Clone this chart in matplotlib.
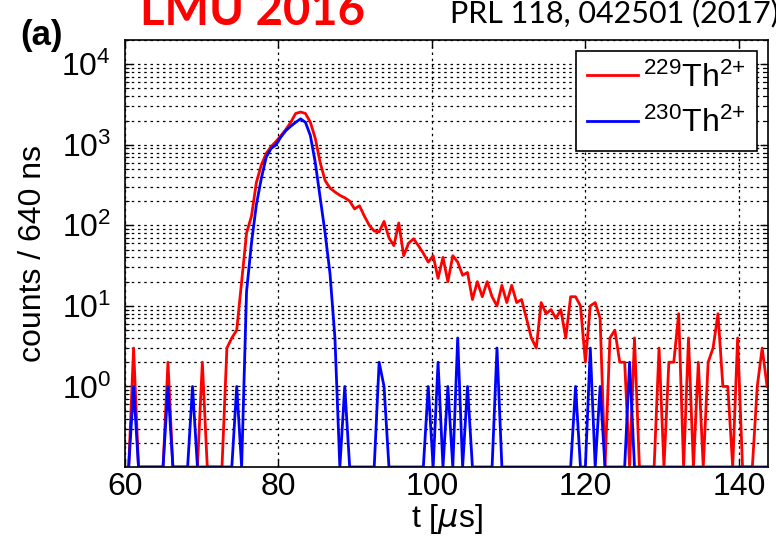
import numpy as np
import matplotlib

matplotlib.use('Agg')

import matplotlib.pyplot as plt
from matplotlib.ticker import LogLocator, NullFormatter

plt.rcParams['font.family'] = 'Liberation Sans'
plt.rcParams['mathtext.default'] = 'regular'

# time bins (640 ns wide), in microseconds
bin_width = 0.64
t_start = 60.48

# counts per bin, 229Th2+ (red)
counts_229 = [
    0, 3, 0, 0, 0, 0, 0, 0, 2, 0,
    0, 0, 0, 0, 0, 2, 0, 0, 0, 0,
    3, 4, 5, 20, 80, 130, 340, 560, 780, 950,
    1100, 1300, 1550, 1900, 2450, 2550, 2450, 1900, 1200, 600,
    360, 290, 260, 236, 220, 200, 160, 175, 130, 100,
    85, 83, 112, 70, 56, 107, 42, 60, 68, 56,
    45, 35, 42, 22, 40, 20, 42, 35, 24, 26,
    12, 20, 13, 20, 13, 10, 18, 11, 18, 11,
    12, 7, 4, 3, 11, 8, 9, 7, 9, 4,
    13, 13, 10, 2, 10, 11, 7, 0, 4, 5,
    2, 2, 0, 4, 0, 0, 0, 0, 3, 0,
    2, 2, 8, 0, 4, 0, 2, 0, 2, 3,
    8, 1, 1, 0, 4, 0, 0, 0, 1, 3,
    1,
]

# counts per bin, 230Th2+ (blue)
counts_230 = [
    0, 1, 0, 0, 0, 0, 0, 0, 1, 0,
    0, 0, 0, 1, 0, 0, 0, 0, 0, 0,
    0, 0, 1, 0, 15, 60, 180, 380, 700, 900,
    1000, 1250, 1500, 1700, 1900, 2100, 1900, 1300, 600, 220,
    80, 25, 4, 0, 1, 0, 0, 0, 0, 0,
    0, 2, 1, 0, 0, 0, 0, 0, 0, 0,
    0, 1, 0, 2, 0, 1, 0, 4, 0, 1,
    0, 0, 0, 0, 0, 3, 0, 0, 0, 0,
    0, 0, 0, 0, 0, 0, 0, 0, 0, 0,
    0, 1, 0, 0, 3, 0, 1, 0, 0, 0,
    0, 0, 2, 0, 0, 0, 0, 0, 0, 0,
    0, 0, 0, 0, 0, 0, 0, 0, 0, 0,
    0, 0, 0, 0, 0, 0, 0, 0, 0, 0,
    0,
]

labels = ['$^{229}$Th$^{2{+}}$', '$^{230}$Th$^{2{+}}$']
colors = ['#ff0000', '#0000ff']

t = t_start + bin_width * np.arange(len(counts_229))
y_floor = 0.1

W, H = 776, 547
fig = plt.figure(figsize=(W / 100, H / 100), dpi=100)
ax = fig.add_axes([125 / W, 1 - 467 / H, (768 - 125) / W, (467 - 40) / H])

# empty bins sit on the bottom of the log axis
for counts, col, lab in zip([counts_229, counts_230], colors, labels):
    y = np.clip(np.array(counts, dtype=float), y_floor, None)
    ax.plot(t, y, color=col, lw=2.0, label=lab)

ax.set_yscale('log')
ax.set_ylim(y_floor, 2e4)
ax.set_xlim(60, 143.8)
ax.set_xticks([60, 80, 100, 120, 140])
ax.set_yticks([1, 10, 100, 1000, 10000])
ax.yaxis.set_minor_locator(LogLocator(base=10, subs=np.arange(2, 10), numticks=20))
ax.yaxis.set_minor_formatter(NullFormatter())

ax.grid(True, which='major', axis='both', color='black', linestyle=(0, (2, 3)), lw=0.9)
ax.grid(True, which='minor', axis='y', color='black', linestyle=(0, (2, 3)), lw=0.9)

ax.tick_params(which='both', direction='in', top=True, right=True, labelsize=23)
ax.tick_params(which='major', length=6, width=1)
ax.tick_params(which='minor', length=3, width=0.8)
ax.tick_params(axis='y', which='major', pad=10)
for s in ax.spines.values():
    s.set_linewidth(1.2)

ax.set_xlabel('t [$\\mathit{\\mu}$s]', fontsize=23, labelpad=0)
ax.set_ylabel('counts / 640 ns', fontsize=23, labelpad=10)

leg = ax.legend(loc='upper right', fontsize=23, fancybox=False, edgecolor='black',
                framealpha=1, handlelength=1.6, handletextpad=0.15,
                borderaxespad=0.35, borderpad=0.35, labelspacing=0.45)
leg.get_frame().set_linewidth(1.2)

fig.text(20 / W, 1 - 45 / H, '(a)', fontsize=25, fontweight='bold', ha='left', va='baseline')
fig.text(140 / W, 1 - 25 / H, 'LMU 2016', fontsize=34, fontweight='bold', color='#ff0000',
         family='Lato', ha='left', va='baseline')
fig.text(450 / W, 1 - 22 / H, 'PRL 118, 042501 (2017)', fontsize=22,
         family='Lato', ha='left', va='baseline')

fig.savefig('out.png', dpi=100)
